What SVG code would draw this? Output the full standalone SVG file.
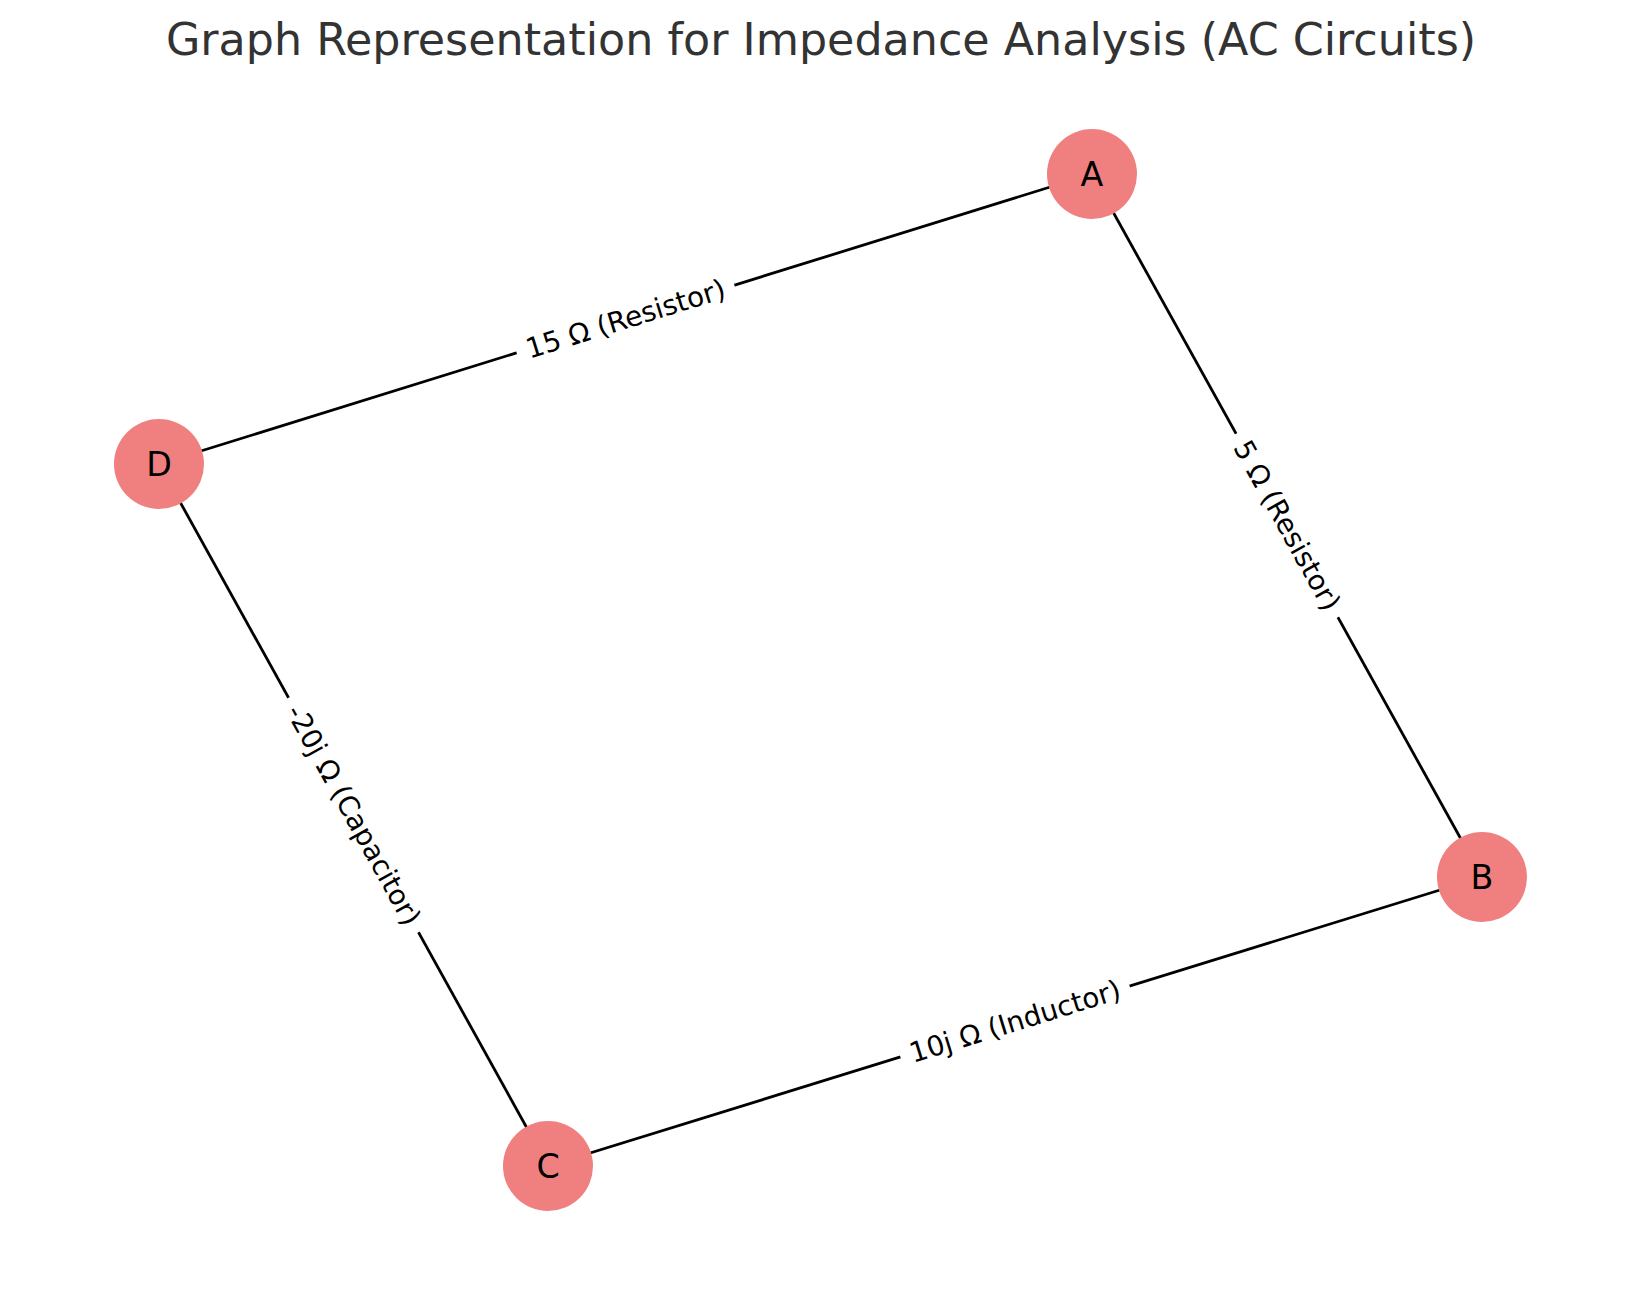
<svg xmlns="http://www.w3.org/2000/svg" width="1639" height="1290" viewBox="0 0 1639 1290">
<style>
.edge{stroke:#000;stroke-width:2.8;fill:none}
.node{fill:#F08080}
.nl{font-family:"DejaVu Sans",sans-serif;font-size:33.3px;fill:#000;text-anchor:middle;dominant-baseline:central}
.el{font-family:"DejaVu Sans",sans-serif;font-size:27.8px;fill:#000;text-anchor:middle;dominant-baseline:central}
.lb{fill:#fff}
.title{font-family:"DejaVu Sans",sans-serif;font-size:44.4px;fill:#333;text-anchor:middle}
</style>
<rect width="1639" height="1290" fill="#fff"/>
<text class="title" x="821" y="55">Graph Representation for Impedance Analysis (AC Circuits)</text>
<g id="connectors">
<line class="edge" x1="1092" y1="174" x2="159" y2="464"/>
<line class="edge" x1="1092" y1="174" x2="1482" y2="877"/>
<line class="edge" x1="1482" y1="877" x2="548" y2="1166"/>
<line class="edge" x1="159" y1="464" x2="548" y2="1166"/>
<g transform="translate(625.5,319) rotate(-17.27)">
<rect class="lb" x="-114" y="-20" width="228" height="40" rx="6"/>
<text class="el" x="0" y="0">15 Ω (Resistor)</text>
</g>
<g transform="translate(1287,525.5) rotate(60.98)">
<rect class="lb" x="-105" y="-20" width="210" height="40" rx="6"/>
<text class="el" x="0" y="0">5 Ω (Resistor)</text>
</g>
<g transform="translate(1015,1021.5) rotate(-17.19)">
<rect class="lb" x="-120" y="-20" width="240" height="40" rx="6"/>
<text class="el" x="0" y="0">10j Ω (Inductor)</text>
</g>
<g transform="translate(353.5,815) rotate(61)">
<rect class="lb" x="-134" y="-20" width="268" height="40" rx="6"/>
<text class="el" x="0" y="0">-20j Ω (Capacitor)</text>
</g>
</g>
<g id="node-A"><circle class="node" cx="1092" cy="174" r="45"/><text class="nl" x="1092" y="174">A</text></g>
<g id="node-B"><circle class="node" cx="1482" cy="877" r="45"/><text class="nl" x="1482" y="877">B</text></g>
<g id="node-C"><circle class="node" cx="548" cy="1166" r="45"/><text class="nl" x="548" y="1166">C</text></g>
<g id="node-D"><circle class="node" cx="159" cy="464" r="45"/><text class="nl" x="159" y="464">D</text></g>
</svg>
